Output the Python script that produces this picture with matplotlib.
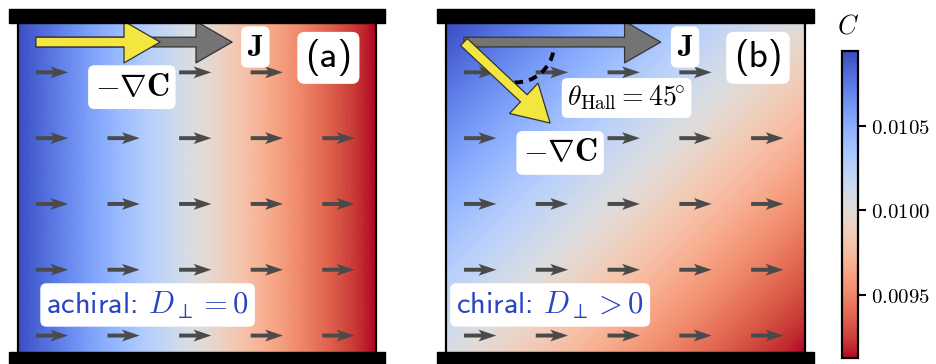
import numpy as np
import matplotlib
matplotlib.use('Agg')
import matplotlib.pyplot as plt
from matplotlib.patches import FancyArrowPatch, Rectangle, Arc
from matplotlib.colors import Normalize

plt.rcParams['mathtext.fontset'] = 'cm'

########
# data
########

c_min, c_max = 0.00913, 0.01094
cb_ticks = [0.0095, 0.0100, 0.0105]
cb_labels = ['$0.0095$', '$0.0100$', '$0.0105$']

# corner concentrations [[bottom-left, bottom-right], [top-left, top-right]]
conc_a = [[0.01094, 0.00913], [0.01094, 0.00913]]
conc_b = [[0.01007, 0.00913], [0.01094, 0.01000]]

# flux arrow grid (tails, axes units) and arrow length
arrow_x = [0.05, 0.25, 0.45, 0.65, 0.85]
arrow_y = [0.05, 0.25, 0.45, 0.65, 0.85]
flux_len = 0.09

# big arrows: tail and tips (axes units)
big_tail = (0.05, 0.942)
j_tip = (0.598, 0.942)
grad_tip_a = (0.397, 0.942)
grad_tip_b = (0.290, 0.696)

blue_txt = '#2a44bf'
yellow = '#f3e640'
gray = '#747474'

cmap = 'coolwarm_r'
norm = Normalize(c_min, c_max)

W, H = 937, 364
fig = plt.figure(figsize=(W / 100, H / 100), dpi=100)


def setup_panel(ax, conc):
    # pixel centres of the 2x2 image sit on the panel corners
    ax.imshow(np.array(conc), origin='lower', extent=(-0.5, 1.5, -0.5, 1.5),
              cmap=cmap, norm=norm, interpolation='bilinear',
              interpolation_stage='data', aspect='auto', zorder=0)
    ax.set_xlim(0, 1)
    ax.set_ylim(0, 1)
    ax.set_xticks([])
    ax.set_yticks([])
    for s in ['top', 'bottom']:
        ax.spines[s].set_visible(False)
    for s in ['left', 'right']:
        ax.spines[s].set_linewidth(1.6)
    # walls
    for y0 in [1.0, -0.043]:
        ax.add_patch(Rectangle((-0.025, y0), 1.05, 0.043, transform=ax.transAxes,
                               color='k', clip_on=False, zorder=5))
    X, Y = np.meshgrid(arrow_x, arrow_y)
    ax.quiver(X, Y, np.full(X.shape, flux_len), np.zeros(X.shape), pivot='tail',
              angles='xy', scale_units='xy', scale=1, color='0.29',
              width=0.011, headwidth=3.0, headlength=4.5, headaxislength=3.8, zorder=2)


def big_arrow(ax, tail, tip, color, z):
    ax.add_patch(FancyArrowPatch(tail, tip, transform=ax.transAxes,
                                 arrowstyle='simple,head_length=26,head_width=30,tail_width=7',
                                 mutation_scale=1, shrinkA=0, shrinkB=0,
                                 fc=color, ec='0.2', lw=0.9, zorder=z))


def label(ax, x, y, s, size, color='k', family=None, pad=0.2):
    ax.text(x, y, s, transform=ax.transAxes, ha='center', va='center',
            fontsize=size, color=color, family=family, zorder=6,
            bbox=dict(boxstyle='round,pad=%g' % pad, fc='white', ec='none'))


########
# panel (a)
########
ax_a = fig.add_axes([18 / W, 12 / H, 358 / W, 329 / H])
setup_panel(ax_a, conc_a)
big_arrow(ax_a, big_tail, j_tip, gray, 3)
big_arrow(ax_a, big_tail, grad_tip_a, yellow, 4)
label(ax_a, 0.663, 0.927, r'$\mathbf{J}$', 22)
label(ax_a, 0.318, 0.805, r'$-\nabla\mathbf{C}$', 23)
label(ax_a, 0.867, 0.894, '(a)', 27, family='cmss10')
label(ax_a, 0.362, 0.143, r'achiral: $D_\perp = 0$', 22, color=blue_txt, family='cmss10')

########
# panel (b)
########
ax_b = fig.add_axes([446 / W, 12 / H, 359 / W, 329 / H])
setup_panel(ax_b, conc_b)
big_arrow(ax_b, big_tail, j_tip, gray, 3)
big_arrow(ax_b, big_tail, grad_tip_b, yellow, 4)
ax_b.add_patch(Arc((0.195, 0.935), 76 / 359, 76 / 329, theta1=-92, theta2=-8,
                   transform=ax_b.transAxes, color='k', lw=2.8,
                   linestyle=(0, (2.2, 1.6)), zorder=3))
label(ax_b, 0.666, 0.927, r'$\mathbf{J}$', 22)
label(ax_b, 0.503, 0.772, r'$\theta_{\mathrm{Hall}} = 45^{\!\!\circ}$', 20)
label(ax_b, 0.318, 0.605, r'$-\nabla\mathbf{C}$', 23)
label(ax_b, 0.869, 0.894, '(b)', 27, family='cmss10')
label(ax_b, 0.290, 0.143, r'chiral: $D_\perp > 0$', 22, color=blue_txt, family='cmss10')

########
# colorbar
########
cax = fig.add_axes([842 / W, 6 / H, 16 / W, 307 / H])
sm = plt.cm.ScalarMappable(norm=norm, cmap=cmap)
cb = fig.colorbar(sm, cax=cax, ticks=cb_ticks)
cb.ax.set_yticklabels(cb_labels, fontsize=15)
cb.outline.set_linewidth(1.6)
cax.tick_params(length=6, width=1.5)
fig.text(848 / W, 1 - 27 / H, '$C$', fontsize=19, ha='center', va='center')

fig.savefig('out.png', dpi=100)
